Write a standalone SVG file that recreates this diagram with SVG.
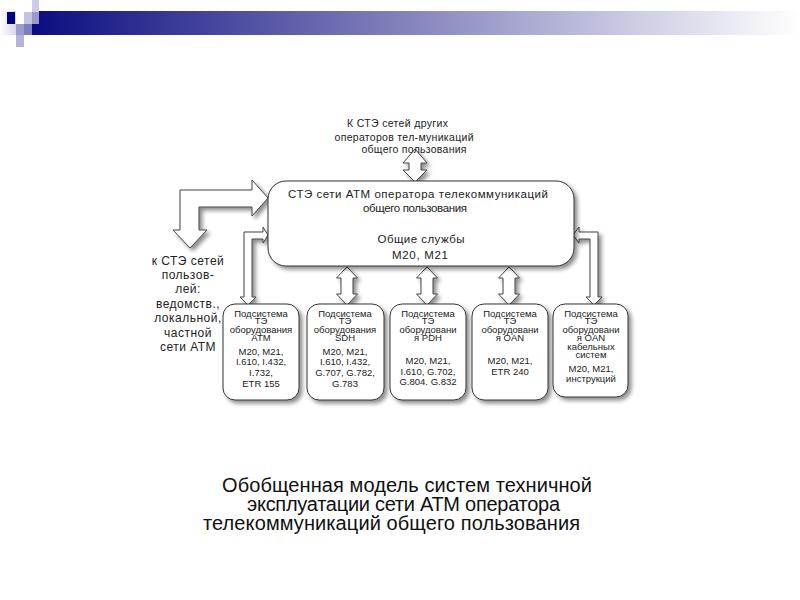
<svg xmlns="http://www.w3.org/2000/svg" width="800" height="600" viewBox="0 0 800 600">
<defs>
<linearGradient id="bar" x1="32" y1="0" x2="800" y2="0" gradientUnits="userSpaceOnUse">
<stop offset="0" stop-color="#0c0c80"/>
<stop offset="0.45" stop-color="#7a7ab8"/>
<stop offset="0.8" stop-color="#d0d0e6"/>
<stop offset="1" stop-color="#ffffff"/>
</linearGradient>
<linearGradient id="lft" x1="0" y1="0" x2="16" y2="0" gradientUnits="userSpaceOnUse">
<stop offset="0" stop-color="#ffffff"/>
<stop offset="1" stop-color="#d6d6ea"/>
</linearGradient>
<filter id="sh" x="-20%" y="-20%" width="150%" height="150%">
<feGaussianBlur in="SourceAlpha" stdDeviation="2"/>
<feOffset dx="3" dy="3" result="o"/>
<feComponentTransfer><feFuncA type="linear" slope="0.45"/></feComponentTransfer>
<feMerge><feMergeNode/><feMergeNode in="SourceGraphic"/></feMerge>
</filter>
<style>
.box{fill:#fff;stroke:#333;stroke-width:1;filter:url(#sh)}
.arr{fill:#fff;stroke:#444;stroke-width:1;stroke-linejoin:miter;filter:url(#sh)}
text{font-family:"Liberation Sans",Arial,sans-serif;fill:#222;text-anchor:middle}
.m{font-size:11.5px}
.t{font-size:10.5px}
.s{font-size:9.5px}
.l{font-size:12px;letter-spacing:0.5px}
.c{font-size:20px;fill:#111}
</style>
</defs>

<g id="header">
<rect x="0" y="11" width="16" height="24" fill="url(#lft)"/>
<rect x="32" y="11" width="768" height="24" fill="url(#bar)"/>
<rect x="7" y="12" width="8" height="12" fill="#000080"/>
<rect x="16" y="24" width="8" height="11" fill="#9a9acc"/>
<rect x="16" y="35" width="8" height="12" fill="#b4b4da"/>
<rect x="24" y="12" width="8" height="12" fill="#c4c4e2"/>
<rect x="24" y="24" width="8" height="11" fill="#7e7eba"/>
<rect x="32" y="0" width="7" height="12" fill="#ccccea"/>
<rect x="32" y="12" width="7" height="12" fill="#9a9acc"/>
</g>

<g id="connectors">
<polygon class="arr" points="415,149 427,163 421,163 421,170 427,170 415,182 403,170 409,170 409,163 403,163"/>
<polygon class="arr" points="180,190 252,190 252,180 268,198 252,216 252,207 199,207 199,230 207,230 190,248 173,230 180,230"/>
<polygon class="arr" points="244,297 244,232 263,232 263,227 268,235 263,243 263,239 252,239 252,297 256,297 248,305 240,297"/>
<polygon class="arr" points="598,297 598,232 579,232 579,227 573,235 579,243 579,239 590,239 590,297 586,297 594,305 602,297"/>
<polygon class="arr" points="347,267 357.5,278 353,278 353,294 357.5,294 347,305 336.5,294 341,294 341,278 336.5,278"/>
<polygon class="arr" points="427,267 437.5,278 433,278 433,294 437.5,294 427,305 416.5,294 421,294 421,278 416.5,278"/>
<polygon class="arr" points="509,267 519.5,278 515,278 515,294 519.5,294 509,305 498.5,294 503,294 503,278 498.5,278"/>
</g>

<g id="top-label">
<text class="t" x="397.5" y="127" textLength="101" lengthAdjust="spacing">К СТЭ сетей других</text>
<text class="t" x="404" y="141" textLength="139" lengthAdjust="spacing">операторов тел-муникаций</text>
<text class="t" x="414" y="153" textLength="105" lengthAdjust="spacing">общего пользования</text>
</g>

<g id="left-label">
<text class="l" x="188" y="265">к СТЭ сетей</text>
<text class="l" x="188" y="279">пользов-</text>
<text class="l" x="188" y="293">лей:</text>
<text class="l" x="188" y="308">ведомств.,</text>
<text class="l" x="188" y="322">локальной,</text>
<text class="l" x="188" y="337">частной</text>
<text class="l" x="188" y="351">сети АТМ</text>
</g>

<g id="main">
<rect class="box" x="268" y="181" width="306" height="85" rx="18"/>
<text class="m" x="418" y="198" textLength="260" lengthAdjust="spacing">СТЭ сети АТМ оператора телекоммуникаций</text>
<text class="m" x="415" y="212" textLength="104" lengthAdjust="spacing">общего пользования</text>
<text class="m" x="421" y="243" textLength="87" lengthAdjust="spacing">Общие службы</text>
<text class="m" x="420" y="259" textLength="56" lengthAdjust="spacing">M20, M21</text>
</g>

<g id="sub-atm">
<rect class="box" x="223" y="304" width="76" height="96" rx="12"/>
<text class="s" x="261" y="317">Подсистема</text>
<text class="s" x="261" y="324">ТЭ</text>
<text class="s" x="261" y="333">оборудования</text>
<text class="s" x="261" y="341">ATM</text>
<text class="s" x="261" y="355">M20, M21,</text>
<text class="s" x="261" y="365">I.610, I.432,</text>
<text class="s" x="261" y="376">I.732,</text>
<text class="s" x="261" y="387">ETR 155</text>
</g>

<g id="sub-sdh">
<rect class="box" x="307" y="304" width="77" height="96" rx="12"/>
<text class="s" x="345" y="317">Подсистема</text>
<text class="s" x="345" y="324">ТЭ</text>
<text class="s" x="345" y="333">оборудования</text>
<text class="s" x="345" y="341">SDH</text>
<text class="s" x="345" y="355">M20, M21,</text>
<text class="s" x="345" y="365">I.610, I.432,</text>
<text class="s" x="345" y="376">G.707, G.782,</text>
<text class="s" x="345" y="387">G.783</text>
</g>

<g id="sub-pdh">
<rect class="box" x="390" y="304" width="76" height="96" rx="12"/>
<text class="s" x="428" y="317">Подсистема</text>
<text class="s" x="428" y="324">ТЭ</text>
<text class="s" x="428" y="333">оборудовани</text>
<text class="s" x="428" y="341">я PDH</text>
<text class="s" x="428" y="364">M20, M21,</text>
<text class="s" x="428" y="375">I.610, G.702,</text>
<text class="s" x="428" y="385">G.804. G.832</text>
</g>

<g id="sub-oan">
<rect class="box" x="472" y="304" width="76" height="96" rx="12"/>
<text class="s" x="510" y="317">Подсистема</text>
<text class="s" x="510" y="324">ТЭ</text>
<text class="s" x="510" y="333">оборудовани</text>
<text class="s" x="510" y="341">я OAN</text>
<text class="s" x="510" y="364">M20, M21,</text>
<text class="s" x="510" y="375">ETR 240</text>
</g>

<g id="sub-oan-cable">
<rect class="box" x="553" y="304" width="75" height="93" rx="12"/>
<text class="s" x="591" y="317">Подсистема</text>
<text class="s" x="591" y="324">ТЭ</text>
<text class="s" x="591" y="333">оборудовани</text>
<text class="s" x="591" y="341">я OAN</text>
<text class="s" x="591" y="350">кабельных</text>
<text class="s" x="591" y="358">систем</text>
<text class="s" x="591" y="372">M20, M21,</text>
<text class="s" x="591" y="382">инструкций</text>
</g>

<g id="caption">
<text class="c" x="407" y="492" textLength="370" lengthAdjust="spacing">Обобщенная модель систем техничной</text>
<text class="c" x="403.5" y="511" textLength="313" lengthAdjust="spacing">эксплуатации сети АТМ оператора</text>
<text class="c" x="391.5" y="530" textLength="377" lengthAdjust="spacing">телекоммуникаций общего пользования</text>
</g>
</svg>
